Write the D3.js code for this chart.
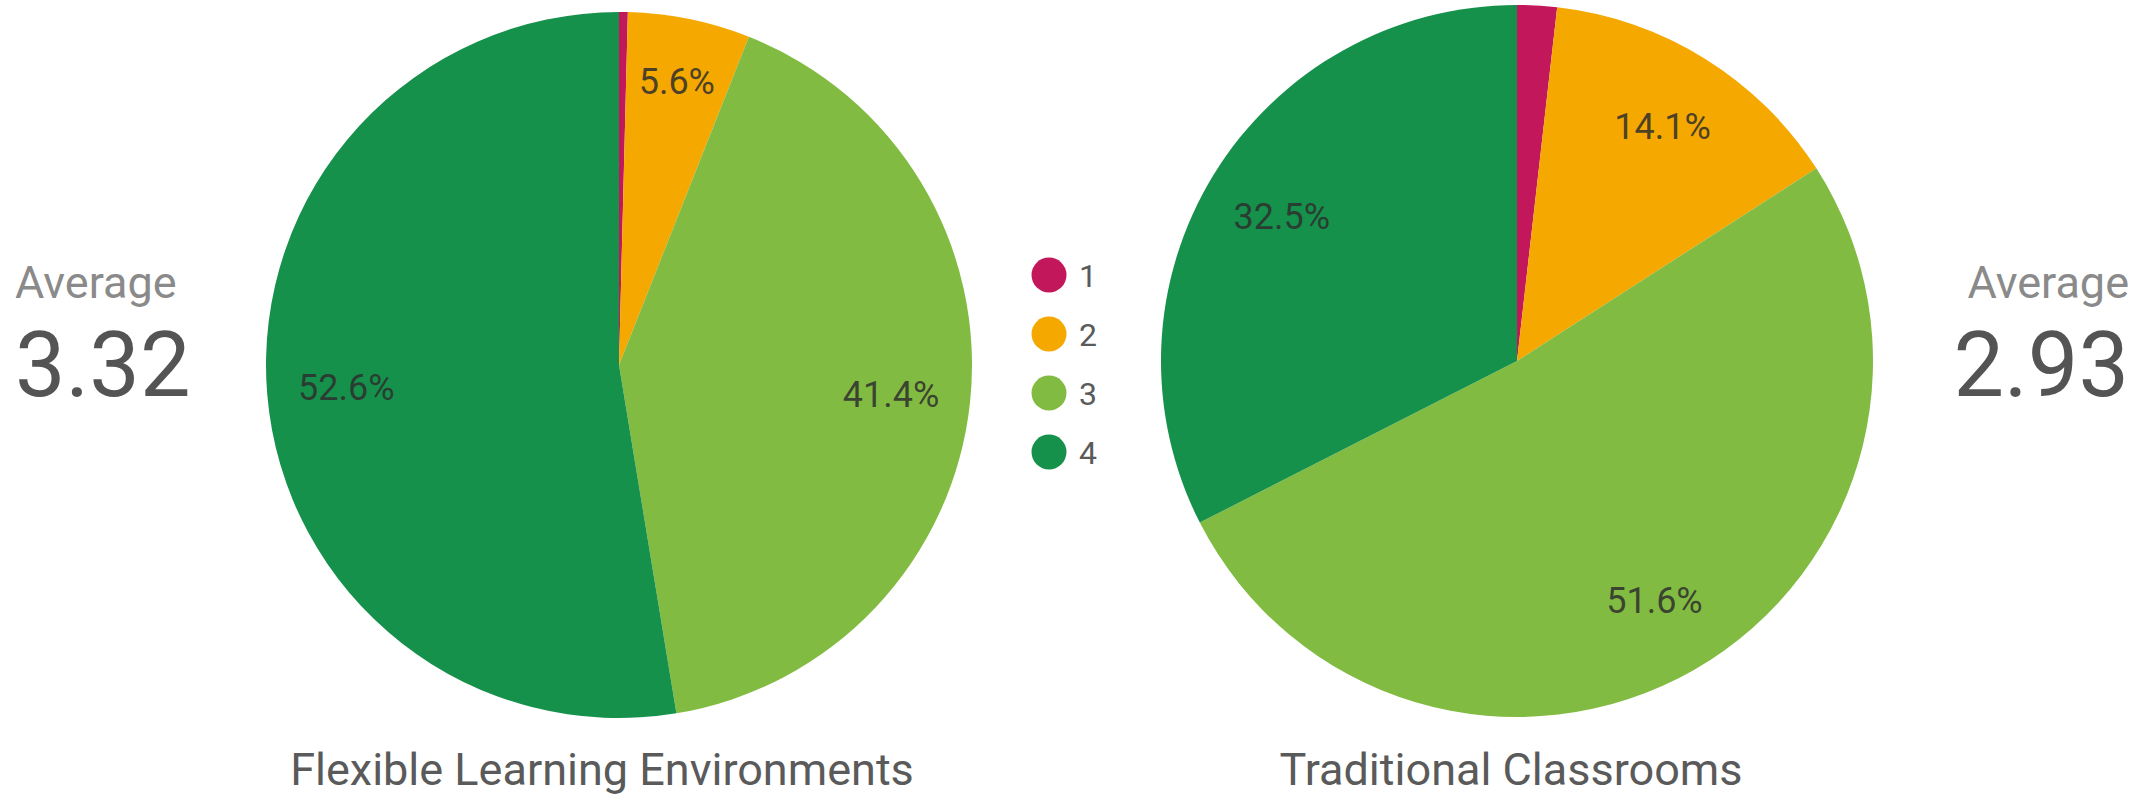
<!DOCTYPE html>
<html>
<head>
<meta charset="utf-8">
<script src="https://cdn.jsdelivr.net/npm/d3@7"></script>
<style>
  html, body { margin: 0; padding: 0; background: #fff; }
  svg { display: block; font-family: Roboto, "Noto Sans", sans-serif; }
</style>
</head>
<body>
<svg id="chart" width="2156" height="796"></svg>
<script>
// Rating categories (1 = lowest, 4 = highest) and their colours
const categories = ["1", "2", "3", "4"];
const categoryColors = ["#c2185b", "#f4a800", "#82bb41", "#15914b"];

// Share of responses per rating, in percent
const flexibleValues = [0.4, 5.6, 41.4, 52.6];
const traditionalValues = [1.8, 14.1, 51.6, 32.5];

// Chart titles and the average rating shown beside each pie
const chartTitles = ["Flexible Learning Environments", "Traditional Classrooms"];
const averageLabel = "Average";
const averageValues = ["3.32", "2.93"];

const svg = d3.select("#chart");

const color = d3.scaleOrdinal().domain(categories).range(categoryColors);

const pie = d3.pie()
  .value(d => d.value)
  .sort(null);

const pies = [
  { values: flexibleValues, cx: 619, cy: 365, r: 353, title: chartTitles[0], titleX: 602 },
  { values: traditionalValues, cx: 1517, cy: 361, r: 356, title: chartTitles[1], titleX: 1511 }
];

pies.forEach(p => {
  const data = categories.map((c, i) => ({ category: c, value: p.values[i] }));
  const arcs = pie(data);
  const arc = d3.arc().innerRadius(0).outerRadius(p.r);

  const g = svg.append("g").attr("transform", `translate(${p.cx},${p.cy})`);

  g.selectAll("path")
    .data(arcs)
    .join("path")
    .attr("d", arc)
    .attr("fill", d => color(d.data.category));

  // Percentage labels; narrow slices push their label further out, tiny ones are skipped
  g.selectAll("text")
    .data(arcs.filter(d => d.data.value >= 5))
    .join("text")
    .attr("transform", d => {
      const lr = p.r * (d.data.value < 10 ? 0.82 : 0.775);
      const a = (d.startAngle + d.endAngle) / 2;
      return `translate(${lr * Math.sin(a)},${-lr * Math.cos(a)})`;
    })
    .attr("text-anchor", "middle")
    .attr("dy", "0.35em")
    .attr("font-size", 36)
    .attr("fill", "#2e2e2e")
    .attr("fill-opacity", 0.85)
    .text(d => d3.format(".1f")(d.data.value) + "%");

  svg.append("text")
    .attr("x", p.titleX)
    .attr("y", 785)
    .attr("text-anchor", "middle")
    .attr("font-size", 45)
    .attr("fill", "#5a5a5a")
    .text(p.title);
});

// Average rating blocks, left and right
const averages = [
  { x: 15, anchor: "start", value: averageValues[0] },
  { x: 2129, anchor: "end", value: averageValues[1] }
];
averages.forEach(a => {
  svg.append("text")
    .attr("x", a.x)
    .attr("y", 298)
    .attr("text-anchor", a.anchor)
    .attr("font-size", 45)
    .attr("fill", "#8a8a8a")
    .text(averageLabel);
  svg.append("text")
    .attr("x", a.x)
    .attr("y", 396)
    .attr("text-anchor", a.anchor)
    .attr("font-size", 90)
    .attr("fill", "#545454")
    .text(a.value);
});

// Legend between the pies
const legendY = d3.scalePoint().domain(categories).range([275, 452]);
const legend = svg.append("g");
legend.selectAll("circle")
  .data(categories)
  .join("circle")
  .attr("cx", 1049)
  .attr("cy", d => legendY(d))
  .attr("r", 17.5)
  .attr("fill", d => color(d));
legend.selectAll("text")
  .data(categories)
  .join("text")
  .attr("x", 1079)
  .attr("y", d => legendY(d) + 11.5)
  .attr("font-size", 32)
  .attr("fill", "#5a5a5a")
  .text(d => d);
</script>
</body>
</html>
